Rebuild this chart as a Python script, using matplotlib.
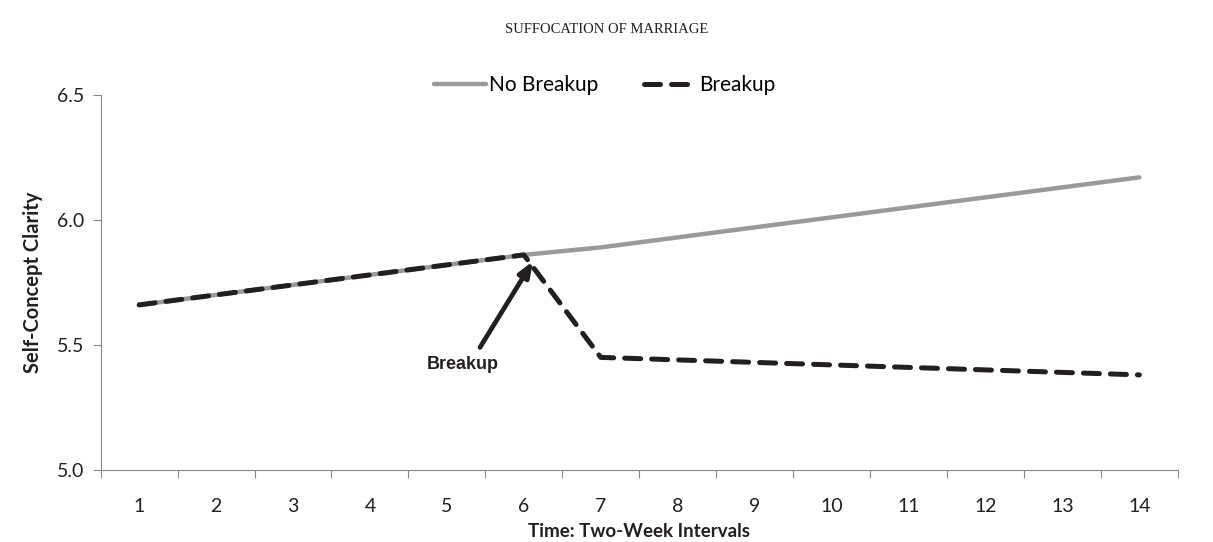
import numpy as np
import matplotlib
matplotlib.use('Agg')
import matplotlib.pyplot as plt

## Data
weeks = list(range(1, 15))
no_breakup = [5.66, 5.70, 5.74, 5.78, 5.82, 5.86, 5.89, 5.93, 5.97, 6.01, 6.05, 6.09, 6.13, 6.17]
breakup = [5.66, 5.70, 5.74, 5.78, 5.82, 5.86, 5.45, 5.44, 5.43, 5.42, 5.41, 5.40, 5.39, 5.38]
yticks = [5.0, 5.5, 6.0, 6.5]

plt.rcParams['font.family'] = ['Lato', 'DejaVu Sans']

fig = plt.figure(figsize=(12.13, 5.42), dpi=100)
ax = fig.add_axes([0.083, 0.133, 0.888, 0.692])

ax.plot(weeks, no_breakup, color='#9a9a9c', lw=3.2, solid_capstyle='round', label='No Breakup')
ax.plot(weeks, breakup, color='#231f20', lw=3.6, ls=(0, (3.2, 2.2)),
        dash_capstyle='round', label='Breakup')

ax.set_xlim(0.5, 14.5)
ax.set_ylim(5.0, 6.5)
ax.set_yticks(yticks)
ax.set_yticklabels(['%.1f' % v for v in yticks])
ax.set_xticks(weeks)
ax.set_xticks(np.arange(0.5, 15, 1), minor=True)
ax.tick_params(axis='x', which='major', length=0, pad=20, labelsize=14, colors='#231f20')
ax.tick_params(axis='x', which='minor', length=6, color='#888888', width=0.8)
ax.tick_params(axis='y', length=6, color='#888888', width=0.8, labelsize=14, colors='#231f20', pad=6)
for s in ['top', 'right']:
    ax.spines[s].set_visible(False)
for s in ['left', 'bottom']:
    ax.spines[s].set_color('#888888')
    ax.spines[s].set_linewidth(0.8)

ax.set_ylabel('Self-Concept Clarity', fontsize=14.5, fontweight='bold', color='#231f20', labelpad=10)
ax.set_xlabel('Time: Two-Week Intervals', fontsize=13.5, fontweight='bold', color='#231f20', labelpad=6)

ax.legend(loc='center', bbox_to_anchor=(0.468, 1.025), ncol=2, frameon=False,
          fontsize=15, handlelength=2.5, handletextpad=0.15, columnspacing=2.2)

## arrow pointing to the breakup at week 6
ax.annotate('', xy=(6.12, 5.835), xytext=(5.43, 5.49),
            arrowprops=dict(arrowstyle='-|>,head_length=0.9,head_width=0.35', lw=3.4,
                            color='#231f20', shrinkA=0, shrinkB=0))
ax.text(5.2, 5.42, 'Breakup', fontsize=13, fontweight='bold', family='Liberation Sans',
        color='#231f20', ha='center', va='center')

fig.text(0.5, 0.945, 'SUFFOCATION OF MARRIAGE', ha='center', va='center',
         family='Liberation Serif', fontsize=10.5, color='#231f20')

fig.savefig('out.png', dpi=100)
